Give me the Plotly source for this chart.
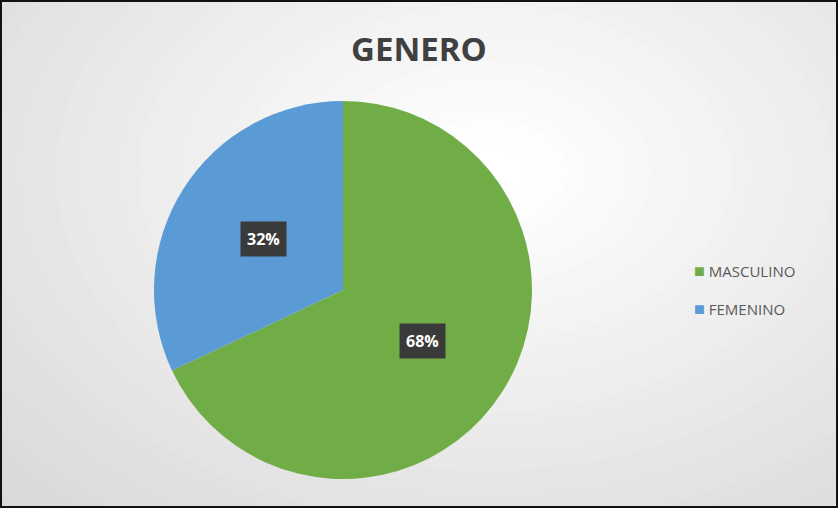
import math
import plotly.graph_objects as go

# ---- data ----
categories = ["MASCULINO", "FEMENINO"]
values = [68, 32]
colors = ["#70ad47", "#5b9bd5"]
title_text = "GENERO"

W, H = 838, 508
cx_px, cy_px, r_px = 343, 290, 189

dom_x = [(cx_px - r_px) / W, (cx_px + r_px) / W]
dom_y = [(H - cy_px - r_px) / H, (H - cy_px + r_px) / H]

fig = go.Figure(go.Pie(
    labels=categories,
    values=values,
    marker=dict(colors=colors, line=dict(width=0)),
    sort=False,
    direction="clockwise",
    rotation=0,
    textinfo="none",
    showlegend=False,
    hoverinfo="none",
    domain=dict(x=dom_x, y=dom_y),
))

# background radial gradient
shapes = []
n = 40
edge = (207, 207, 207)
for i in range(n):
    t = i / (n - 1)
    c = tuple(int(round(e + (255 - e) * t)) for e in edge)
    sx = 0.95 * (1 - t) + 0.05
    sy = 1.10 * (1 - t) + 0.05
    x0c, y0c = 0.58, 0.66
    shapes.append(dict(type="circle", xref="paper", yref="paper",
                       x0=x0c - sx, x1=x0c + sx, y0=y0c - sy, y1=y0c + sy,
                       fillcolor="rgb(%d,%d,%d)" % c, line=dict(width=0),
                       layer="below"))
shapes.append(dict(type="rect", xref="paper", yref="paper", x0=0, x1=1, y0=0, y1=1,
                   line=dict(color="#111111", width=4), layer="above"))

annotations = []
total = sum(values)
cum = 0
for lab, v in zip(categories, values):
    mid = (cum + v / 2) / total * 2 * math.pi
    cum += v
    px = cx_px + 0.5 * r_px * math.sin(mid)
    py = cy_px - 0.5 * r_px * math.cos(mid)
    annotations.append(dict(x=px / W, y=1 - py / H, xref="paper", yref="paper",
                            xanchor="center", yanchor="middle",
                            text="<b>%d%%</b>" % round(100 * v / total), showarrow=False,
                            font=dict(family="Open Sans", size=16, color="white"),
                            bgcolor="#3a3a3a", borderpad=6))

# legend built from categories
for i, (lab, col) in enumerate(zip(categories, colors)):
    annotations.append(dict(x=692 / W, y=1 - (270 + 38 * i) / H, xref="paper", yref="paper",
                            xanchor="left", yanchor="middle", showarrow=False,
                            text="<span style='color:%s;font-size:18px'>■</span> %s" % (col, lab),
                            font=dict(family="Open Sans", size=15, color="#595959")))

annotations.append(dict(x=419 / W, y=1 - 48 / H, xref="paper", yref="paper",
                        xanchor="center", yanchor="middle",
                        text="<b>%s</b>" % title_text, showarrow=False,
                        font=dict(family="Open Sans", size=33, color="#404040")))

fig.update_layout(
    width=W, height=H,
    margin=dict(l=0, r=0, t=0, b=0),
    paper_bgcolor="#cfcfcf",
    shapes=shapes,
    annotations=annotations,
)

fig.write_html("out.html", config={"displayModeBar": False},
               post_script="document.body.style.margin='0';")
